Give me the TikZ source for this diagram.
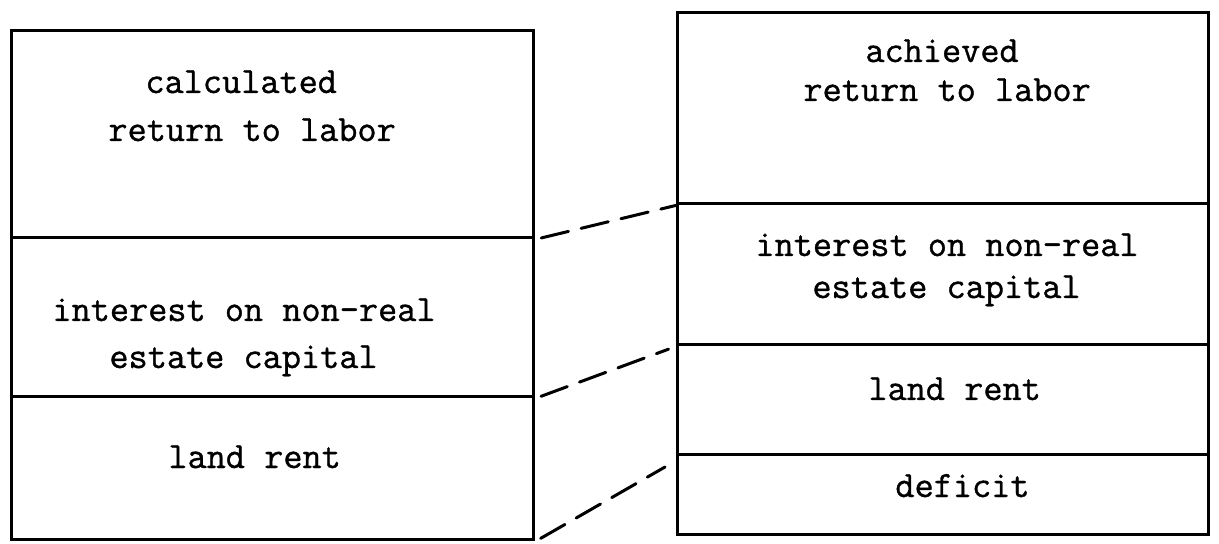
\documentclass[tikz,border=0pt]{standalone}
\usepackage{fontspec}
\newfontfamily\typewriter{Latin Modern Mono}[FakeBold=1.0]
\usetikzlibrary{calc}
\begin{document}
\begin{tikzpicture}[x=0.5pt,y=-0.5pt,
  section/.style={draw,line width=1.7pt,inner sep=0pt,anchor=north west},
  label/.style={inner sep=0pt,anchor=base west,font=\typewriter\fontsize{18.6pt}{23pt}\selectfont},
  link/.style={line width=1.5pt,dash pattern=on 14pt off 6.5pt,line cap=round}]
\useasboundingbox (0,0) rectangle (1219,544);
% calculated distribution (left column)
\node[section,minimum width=261pt,minimum height=103.5pt] (L1) at (10,29) {};
\node[section,minimum width=261pt,minimum height=79.5pt] (L2) at (10,236) {};
\node[section,minimum width=261pt,minimum height=71.5pt] (L3) at (10,395) {};
% achieved distribution (right column)
\node[section,minimum width=265.5pt,minimum height=95.5pt] (R1) at (676,11) {};
\node[section,minimum width=265.5pt,minimum height=70.5pt] (R2) at (676,202) {};
\node[section,minimum width=265.5pt,minimum height=55pt] (R3) at (676,343) {};
\node[section,minimum width=265.5pt,minimum height=40pt] (R4) at (676,453) {};
% labels
\node[label] (ct1) at (145,93) {calculated};
\node[label] (ct2) at (108,141) {return to labor};
\node[label] (ci1) at (52,321) {interest on non-real};
\node[label] (ci2) at (109,368) {estate capital};
\node[label] (cl) at (168,468) {land rent};
\node[label] (at1) at (865,62) {achieved};
\node[label] (at2) at (803,101) {return to labor};
\node[label] (ai1) at (755,256) {interest on non-real};
\node[label] (ai2) at (812,298) {estate capital};
\node[label] (al) at (868,400) {land rent};
\node[label] (ad) at (895,497) {deficit};
% dashed links between matching boundaries
\coordinate (d3) at (665,467);
\draw[link,shorten <=3pt] (L1.south east) -- (R1.south west);
\draw[link,shorten <=3pt,shorten >=4pt] (L2.south east) -- (R2.south west);
\draw[link,shorten <=3pt] (L3.south east) -- (d3);
\end{tikzpicture}
\end{document}
